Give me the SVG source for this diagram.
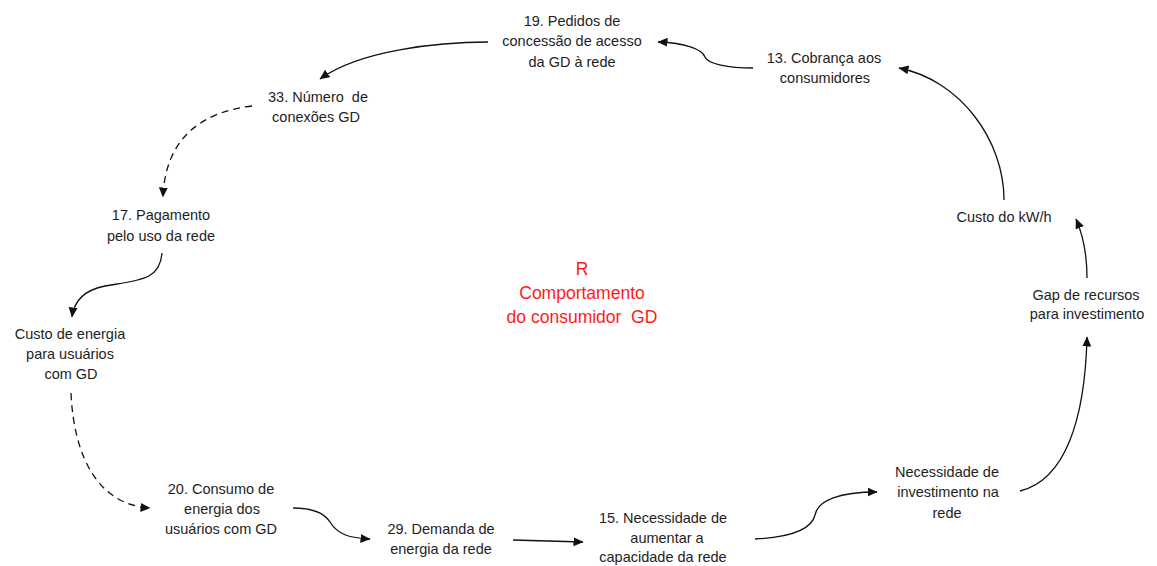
<svg xmlns="http://www.w3.org/2000/svg" width="1157" height="566" viewBox="0 0 1157 566">
<style>
  .lbl { font-family: "Liberation Sans", Arial, sans-serif; font-size: 14.5px; fill: #1e1e1e; text-anchor: middle; white-space: pre; }
  .red { font-family: "Liberation Sans", Arial, sans-serif; font-size: 17.5px; fill: #ff1a1a; text-anchor: middle; white-space: pre; }
  .con { fill: none; stroke: #111; stroke-width: 1.3; marker-end: url(#arr); }
  .dash { stroke-dasharray: 7 5; }
</style>
<defs>
  <marker id="arr" markerUnits="userSpaceOnUse" markerWidth="12" markerHeight="10" refX="9.5" refY="4.5" orient="auto">
    <path d="M0,0 L10,4.5 L0,9 z" fill="#111"/>
  </marker>
</defs>
<rect width="1157" height="566" fill="#ffffff"/>

<g id="connectors">
  <path class="con" d="M488,42 C440,42 360,50 320,79"/>
  <path class="con" d="M753,68 C728,68 708,64 705,57 C702,49 685,43 658,42"/>
  <path class="con" d="M1004,200 C1004,140 960,80 899,68"/>
  <path class="con" d="M1087,278 C1087,255 1083,235 1076,219"/>
  <path class="con" d="M1020,491 C1065,480 1085,420 1087,337"/>
  <path class="con" d="M755,539 C795,537 812,528 815,515 C818,500 840,492 877,492"/>
  <path class="con" d="M513,540 L583,542"/>
  <path class="con" d="M293,508 C315,508 325,514 330,522 C338,535 350,538 370,539"/>
  <path class="con dash" d="M71,393 C74,460 100,505 150,508"/>
  <path class="con" d="M162,253 C160,280 140,280 105,286 C85,290 74,300 72,317"/>
  <path class="con dash" d="M252,106 C200,112 165,140 163,197"/>
</g>

<g id="n19">
  <text class="lbl" x="572" y="25.5">19. Pedidos de</text>
  <text class="lbl" x="572" y="46">concessão de acesso</text>
  <text class="lbl" x="572" y="66.5">da GD à rede</text>
</g>
<g id="n13">
  <text class="lbl" x="824" y="63">13. Cobrança aos</text>
  <text class="lbl" x="825" y="83">consumidores</text>
</g>
<g id="n33">
  <text class="lbl" x="318" y="101.5">33. Número  de</text>
  <text class="lbl" x="316" y="122">conexões GD</text>
</g>
<g id="n17">
  <text class="lbl" x="161" y="220">17. Pagamento</text>
  <text class="lbl" x="161" y="240.5">pelo uso da rede</text>
</g>
<g id="nCustoEnergia">
  <text class="lbl" x="70" y="339">Custo de energia</text>
  <text class="lbl" x="70" y="359">para usuários</text>
  <text class="lbl" x="71" y="379">com GD</text>
</g>
<g id="n20">
  <text class="lbl" x="221" y="493.5">20. Consumo de</text>
  <text class="lbl" x="222" y="513.5">energia dos</text>
  <text class="lbl" x="221" y="533.5">usuários com GD</text>
</g>
<g id="n29">
  <text class="lbl" x="441" y="534">29. Demanda de</text>
  <text class="lbl" x="441" y="554">energia da rede</text>
</g>
<g id="n15">
  <text class="lbl" x="663" y="523">15. Necessidade de</text>
  <text class="lbl" x="667" y="542.5">aumentar a</text>
  <text class="lbl" x="663" y="561.5">capacidade da rede</text>
</g>
<g id="nNecessidade">
  <text class="lbl" x="947" y="477">Necessidade de</text>
  <text class="lbl" x="948" y="497">investimento na</text>
  <text class="lbl" x="947" y="517.5">rede</text>
</g>
<g id="nGap">
  <text class="lbl" x="1086" y="300">Gap de recursos</text>
  <text class="lbl" x="1087" y="319">para investimento</text>
</g>
<g id="nCustoKwh">
  <text class="lbl" x="1004" y="221.5">Custo do kW/h</text>
</g>
<g id="loopLabel">
  <text class="red" x="582" y="275">R</text>
  <text class="red" x="582" y="299">Comportamento</text>
  <text class="red" x="582" y="322.5">do consumidor  GD</text>
</g>
</svg>
